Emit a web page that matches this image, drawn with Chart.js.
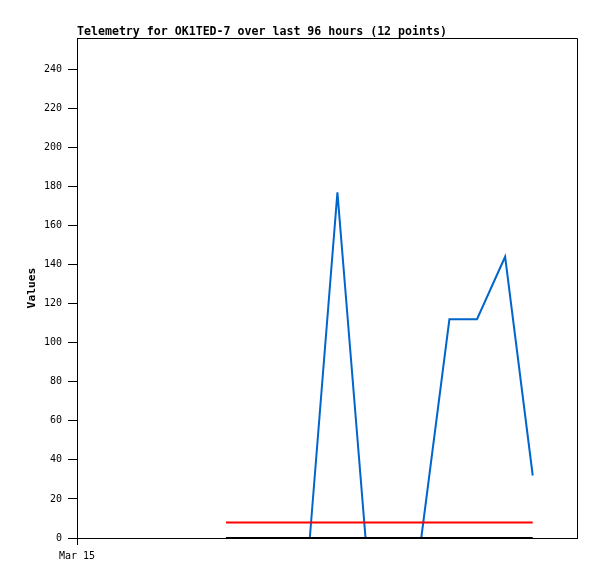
<!DOCTYPE html>
<html><head><meta charset="utf-8">
<script src="https://cdn.jsdelivr.net/npm/chart.js@4/dist/chart.umd.min.js"></script>
<style>html,body{margin:0;padding:0;background:#fff}#wrap{width:597px;height:579px}</style>
</head><body><div id="wrap"><canvas id="c" width="597" height="579"></canvas></div>
<script>
// hours after Mar 15 00:00
const hours = [28.6, 34.0, 39.3, 44.7, 50.0, 55.4, 60.7, 66.1, 71.5, 76.8, 82.2, 87.5];
const blueValues = [0, 0, 0, 0, 177, 0, 0, 0, 112, 112, 144, 32];
const redValues = [8, 8, 8, 8, 8, 8, 8, 8, 8, 8, 8, 8];
const blackValues = [0, 0, 0, 0, 0, 0, 0, 0, 0, 0, 0, 0];
const yTicks = [0, 20, 40, 60, 80, 100, 120, 140, 160, 180, 200, 220, 240];
const xTickLabels = [{ value: 0, label: 'Mar 15' }];
const titleText = 'Telemetry for OK1TED-7 over last 96 hours (12 points)';
const yTitle = 'Values';

const mono = "'DejaVu Sans Mono', 'Liberation Mono', monospace";
const pts = arr => arr.map((v, i) => ({ x: hours[i], y: v }));

const framePlugin = {
  id: 'frame',
  afterDraw(chart) {
    const { ctx, chartArea: a } = chart;
    ctx.save();
    ctx.strokeStyle = '#000';
    ctx.lineWidth = 1;
    ctx.beginPath();
    ctx.moveTo(a.left, a.top + 0.5);
    ctx.lineTo(a.right + 0.5, a.top + 0.5);
    ctx.lineTo(a.right + 0.5, a.bottom);
    ctx.stroke();
    ctx.fillStyle = '#000';
    ctx.font = 'bold 11.6px ' + mono;
    ctx.textBaseline = 'alphabetic';
    ctx.textAlign = 'left';
    ctx.fillText(titleText, a.left, 35);
    ctx.restore();
  }
};

new Chart(document.getElementById('c'), {
  type: 'line',
  data: {
    datasets: [
      { data: pts(blackValues), borderColor: '#000000', borderWidth: 2 },
      { data: pts(redValues), borderColor: '#ff0000', borderWidth: 2 },
      { data: pts(blueValues), borderColor: '#0066cc', borderWidth: 2 }
    ]
  },
  options: {
    responsive: false,
    animation: false,
    layout: { padding: { top: 38, right: 20, left: 0, bottom: 0 } },
    elements: { point: { radius: 0 }, line: { tension: 0, borderJoinStyle: 'miter' } },
    plugins: { legend: { display: false }, tooltip: { enabled: false }, title: { display: false } },
    scales: {
      x: {
        type: 'linear', min: 0, max: 96,
        afterBuildTicks(s) { s.ticks = xTickLabels.map(t => ({ value: t.value })); },
        afterFit(s) { s.height = 41; },
        ticks: {
          callback(v) { const t = xTickLabels.find(t => t.value === v); return t ? t.label : ''; },
          font: { family: mono, size: 10 }, color: '#000', padding: 5, maxRotation: 0, autoSkip: false
        },
        grid: { drawOnChartArea: false, drawTicks: true, tickLength: 7, color: '#000' },
        border: { display: true, color: '#000', width: 1 }
      },
      y: {
        type: 'linear', min: 0, max: 256,
        afterBuildTicks(s) { s.ticks = yTicks.map(v => ({ value: v })); },
        afterFit(s) { s.width = 77; },
        ticks: { font: { family: mono, size: 10 }, color: '#000', padding: 6 },
        grid: { drawOnChartArea: false, drawTicks: true, tickLength: 9, color: '#000' },
        border: { display: true, color: '#000', width: 1 },
        title: { display: true, text: yTitle, font: { family: mono, size: 11.3, weight: 'bold' }, color: '#000', padding: { top: 25, bottom: 0 } }
      }
    }
  },
  plugins: [framePlugin]
});
</script>
</body></html>
